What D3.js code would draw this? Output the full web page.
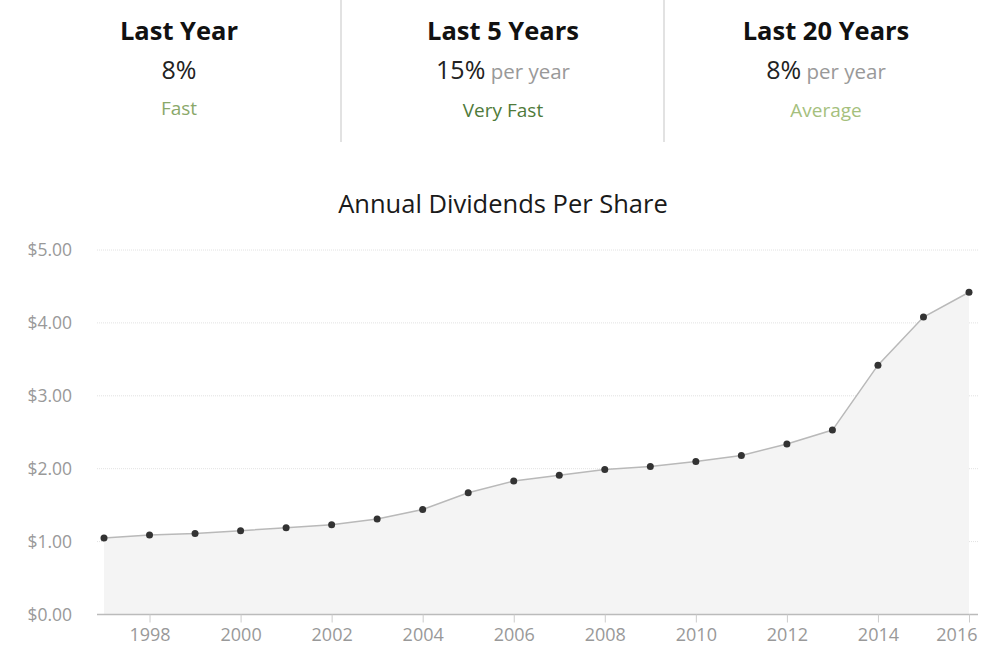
<!DOCTYPE html>
<html>
<head>
<meta charset="utf-8">
<script src="https://cdn.jsdelivr.net/npm/d3@7"></script>
<style>
  body { margin: 0; background: #fff; font-family: "Open Sans", sans-serif; }
</style>
</head>
<body>
<div id="chart"></div>
<script>
// summary panels
const panelTitles = ["Last Year", "Last 5 Years", "Last 20 Years"];
const panelValues = ["8%", "15%", "8%"];
const panelSuffix = ["", "per year", "per year"];
const panelRatings = ["Fast", "Very Fast", "Average"];
const ratingColors = ["#8aa86a", "#4f7a3a", "#a5bf7d"];

// dividend series
const years = [1997, 1998, 1999, 2000, 2001, 2002, 2003, 2004, 2005, 2006,
               2007, 2008, 2009, 2010, 2011, 2012, 2013, 2014, 2015, 2016];
const dividends = [1.05, 1.09, 1.11, 1.15, 1.19, 1.23, 1.31, 1.44, 1.67, 1.83,
                   1.91, 1.99, 2.03, 2.10, 2.18, 2.34, 2.53, 3.42, 4.08, 4.42];
const yTicks = [0, 1, 2, 3, 4, 5];
const xTicks = [1998, 2000, 2002, 2004, 2006, 2008, 2010, 2012, 2014, 2016];

const width = 981, height = 656;
const svg = d3.select("#chart").append("svg")
    .attr("width", width)
    .attr("height", height);

// ---- top summary ----
const colX = [179, 503, 826];
[341, 664].forEach(x => {
    svg.append("line")
        .attr("x1", x).attr("x2", x)
        .attr("y1", 0).attr("y2", 142)
        .attr("stroke", "#d8d8d8").attr("stroke-width", 1.5);
});

panelTitles.forEach((t, i) => {
    svg.append("text")
        .attr("x", colX[i]).attr("y", 40)
        .attr("text-anchor", "middle")
        .style("font-size", "25.5px").style("font-weight", "700")
        .style("fill", "#111")
        .text(t);

    const v = svg.append("text")
        .attr("x", colX[i]).attr("y", 79)
        .attr("text-anchor", "middle")
        .style("font-size", "25px").style("fill", "#222");
    v.append("tspan").text(panelValues[i]);
    if (panelSuffix[i]) {
        v.append("tspan")
            .style("font-size", "20.5px").style("fill", "#999")
            .text(" " + panelSuffix[i]);
    }

    svg.append("text")
        .attr("x", colX[i]).attr("y", i === 0 ? 115 : 117)
        .attr("text-anchor", "middle")
        .style("font-size", "19px")
        .style("fill", ratingColors[i])
        .text(panelRatings[i]);
});

// ---- chart ----
svg.append("text")
    .attr("x", 503).attr("y", 213)
    .attr("text-anchor", "middle")
    .style("font-size", "25.5px").style("fill", "#1a1a1a")
    .text("Annual Dividends Per Share");

const plot = {left: 97, right: 978, top: 250, bottom: 614.5};
const xScale = d3.scaleLinear().domain([1997, 2016]).range([104, 969]);
const yScale = d3.scaleLinear().domain([0, 5]).range([plot.bottom, plot.top]);

const data = years.map((y, i) => ({year: y, value: dividends[i]}));

// gridlines
svg.append("g")
    .selectAll("line")
    .data(yTicks.filter(d => d > 0))
    .join("line")
    .attr("x1", plot.left).attr("x2", plot.right)
    .attr("y1", d => yScale(d)).attr("y2", d => yScale(d))
    .attr("stroke", "#e2e2e2")
    .attr("stroke-dasharray", "1,1");

// area + line
const area = d3.area()
    .x(d => xScale(d.year))
    .y0(yScale(0))
    .y1(d => yScale(d.value));
svg.append("path")
    .datum(data)
    .attr("d", area)
    .attr("fill", "#f4f4f4");

const line = d3.line()
    .x(d => xScale(d.year))
    .y(d => yScale(d.value));
svg.append("path")
    .datum(data)
    .attr("d", line)
    .attr("fill", "none")
    .attr("stroke", "#b9b9b9")
    .attr("stroke-width", 1.5);

// y axis labels
const yAxisG = svg.append("g")
    .attr("transform", "translate(" + (plot.left - 22) + ",0)")
    .call(d3.axisLeft(yScale).tickValues(yTicks).tickSize(0).tickFormat(d3.format("$.2f")));
yAxisG.select(".domain").remove();
yAxisG.selectAll("text")
    .style("font-family", "Open Sans").style("font-size", "17.5px").style("fill", "#999");

// x axis
const xAxisG = svg.append("g")
    .attr("transform", "translate(0," + plot.bottom + ")")
    .call(d3.axisBottom(xScale).tickValues(xTicks).tickSize(8).tickPadding(6).tickFormat(d3.format("d")));
xAxisG.select(".domain")
    .attr("d", "M" + plot.left + ",0H" + plot.right)
    .attr("stroke", "#bbb").attr("stroke-width", 1.5);
xAxisG.selectAll(".tick line").attr("stroke", "#ccc");
xAxisG.selectAll("text")
    .style("font-family", "Open Sans").style("font-size", "18px").style("fill", "#999");
// keep the last year label inside the frame
xAxisG.selectAll(".tick text")
    .filter(d => d === 2016)
    .attr("text-anchor", "end")
    .attr("x", plot.right - xScale(2016) - 1);

// dots
svg.append("g")
    .selectAll("circle")
    .data(data)
    .join("circle")
    .attr("cx", d => xScale(d.year))
    .attr("cy", d => yScale(d.value))
    .attr("r", 3.5)
    .attr("fill", "#333");
</script>
</body>
</html>
